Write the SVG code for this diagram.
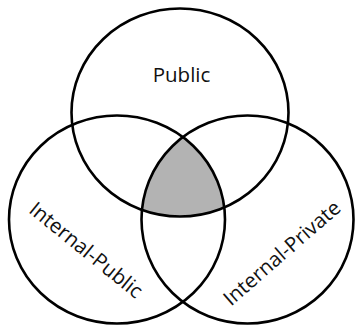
<svg xmlns="http://www.w3.org/2000/svg" width="358" height="329" viewBox="0 0 358 329">
<style>
.c{fill:none;stroke:#000;stroke-width:2.6}
.t{font-family:"Open Sans","Noto Sans",sans-serif;font-size:20.5px;fill:#111;text-anchor:middle}
</style>
<defs>
<clipPath id="cl"><ellipse cx="117" cy="219.5" rx="108" ry="104"/></clipPath>
<clipPath id="cr"><ellipse cx="247.5" cy="219.5" rx="106" ry="104"/></clipPath>
</defs>
<rect width="358" height="329" fill="#fff"/>
<g id="shade" clip-path="url(#cl)"><g clip-path="url(#cr)"><ellipse cx="180" cy="112.5" rx="108.5" ry="104" fill="#b3b3b3"/></g></g>
<g id="connectors"></g>
<g id="public"><ellipse class="c" cx="180" cy="112.5" rx="108.5" ry="104"/><text class="t" x="181.5" y="81.5">Public</text></g>
<g id="internal-public"><ellipse class="c" cx="117" cy="219.5" rx="108" ry="104"/><text class="t" transform="translate(86,250) rotate(39)" x="0" y="7">Internal-Public</text></g>
<g id="internal-private"><ellipse class="c" cx="247.5" cy="219.5" rx="106" ry="104"/><text class="t" transform="translate(282,253) rotate(-41)" x="0" y="7">Internal-Private</text></g>
</svg>
